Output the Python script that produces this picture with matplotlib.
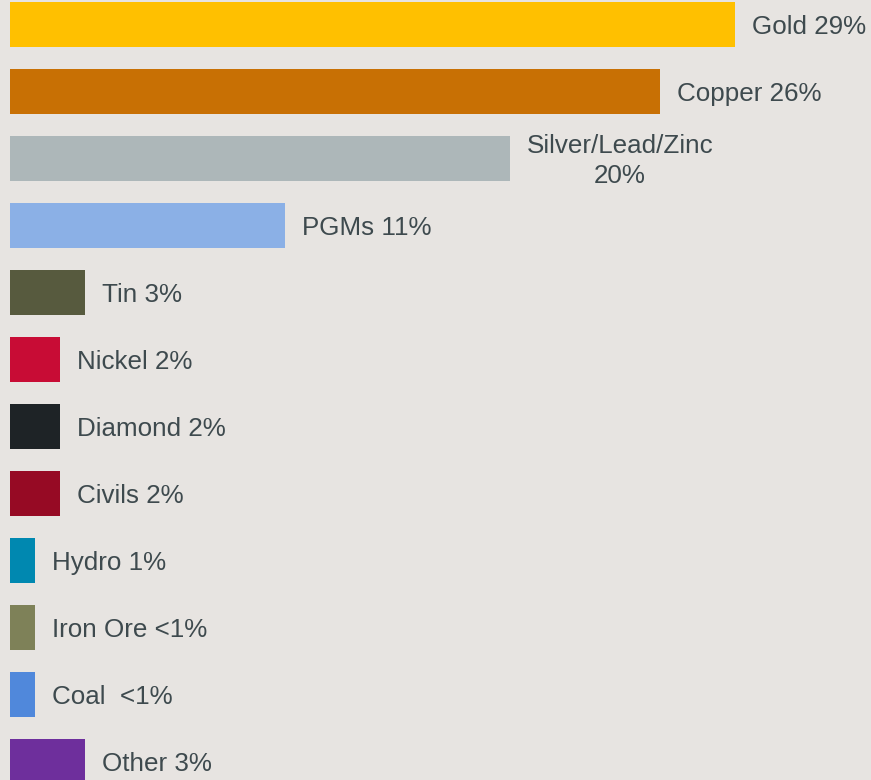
import matplotlib.pyplot as plt

# Share of activity by commodity
commodities = ['Gold', 'Copper', 'Silver/Lead/Zinc', 'PGMs', 'Tin', 'Nickel',
               'Diamond', 'Civils', 'Hydro', 'Iron Ore', 'Coal', 'Other']
shares = [29, 26, 20, 11, 3, 2, 2, 2, 1, 1, 1, 3]
share_labels = ['Gold 29%', 'Copper 26%', 'Silver/Lead/Zinc\n20%', 'PGMs 11%',
                'Tin 3%', 'Nickel 2%', 'Diamond 2%', 'Civils 2%', 'Hydro 1%',
                'Iron Ore <1%', 'Coal  <1%', 'Other 3%']
colors = ['#FFC000', '#C87004', '#ADB7B9', '#8BB0E6', '#575A3E', '#C80C35',
          '#1E2326', '#960A24', '#0088B0', '#7E8158', '#5088DB', '#6E2F9C']

BG = '#E7E4E1'
TEXT = '#3E4A4E'

plt.rcParams['font.family'] = ['Liberation Sans', 'DejaVu Sans']

fig = plt.figure(figsize=(8.71, 7.80), dpi=100, facecolor=BG)
ax = fig.add_axes([0, 0, 1, 1])
ax.set_facecolor(BG)

ypos = list(range(len(commodities)))
ax.barh(ypos, shares, height=45 / 67, color=colors, left=0)

for y, v, lab in zip(ypos, shares, share_labels):
    ax.annotate(lab, xy=(v, y), xytext=(16.5, -2.5), textcoords='offset pixels',
                ha='left', va='center', multialignment='center',
                fontsize=18.7, color=TEXT, linespacing=1.3)

# 25 px per percent, bars start 10 px in
ax.set_xlim(-10 / 25, 861 / 25)
ax.set_ylim((780 - 24.5) / 67, -24.5 / 67)
ax.axis('off')

fig.savefig('out.png', dpi=100, facecolor=BG)
